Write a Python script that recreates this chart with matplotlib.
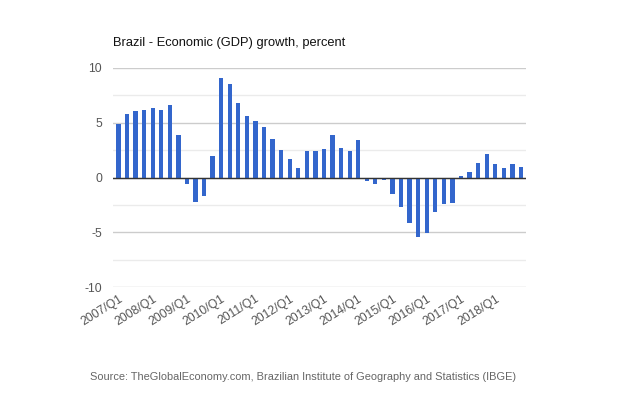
import numpy as np
import matplotlib.pyplot as plt

plt.rcParams['font.family'] = ['Liberation Sans', 'DejaVu Sans']
plt.rcParams['axes.unicode_minus'] = False

# Quarterly GDP growth, percent (2007/Q1 .. 2018/Q4)
years = list(range(2007, 2019))
quarters = [f"{y}/Q{q}" for y in years for q in range(1, 5)]
growth = [4.9, 5.8, 6.1, 6.2, 6.35, 6.2, 6.6, 3.9,
          -0.6, -2.2, -1.65, 2.0, 9.1, 8.5, 6.8, 5.6,
          5.15, 4.65, 3.55, 2.55, 1.65, 0.9, 2.45, 2.45,
          2.6, 3.9, 2.7, 2.45, 3.45, -0.35, -0.6, -0.2,
          -1.55, -2.7, -4.15, -5.45, -5.05, -3.15, -2.45, -2.3,
          0.1, 0.5, 1.35, 2.15, 1.2, 0.85, 1.25, 1.0]
tick_labels = [f"{y}/Q1" for y in years]

fig = plt.figure(figsize=(6.4, 4), dpi=100)
ax = fig.add_axes([0.177, 0.2825, 0.645, 0.5475])

x = np.arange(len(growth))
ax.bar(x, growth, width=0.5, color="#3366cc", zorder=3)

ax.set_xlim(-0.6, len(growth) - 0.4)
ax.set_ylim(-10, 10)
ax.set_yticks([-10, -5, 0, 5, 10])
ax.set_yticks([-7.5, -2.5, 2.5, 7.5], minor=True)
ax.grid(axis="y", which="major", color="#cccccc", linewidth=1, zorder=0)
ax.grid(axis="y", which="minor", color="#ebebeb", linewidth=1, zorder=0)
ax.axhline(0, color="#333333", linewidth=1, zorder=4)

ax.set_xticks(x[::4])
ax.set_xticklabels(tick_labels, rotation=32, ha="right", rotation_mode="anchor",
                   fontsize=8.7, color="#555555")
ax.tick_params(axis="y", labelsize=8.7, labelcolor="#555555", length=0, pad=8)
ax.tick_params(axis="y", which="minor", length=0)
ax.tick_params(axis="x", length=0, pad=4)
for s in ax.spines.values():
    s.set_visible(False)

fig.text(0.177, 0.885, "Brazil - Economic (GDP) growth, percent",
         fontsize=9.3, color="#111111")
fig.text(0.474, 0.05,
         "Source: TheGlobalEconomy.com, Brazilian Institute of Geography and Statistics (IBGE)",
         fontsize=7.9, color="#666666", ha="center")

fig.savefig("out.png", dpi=100)
